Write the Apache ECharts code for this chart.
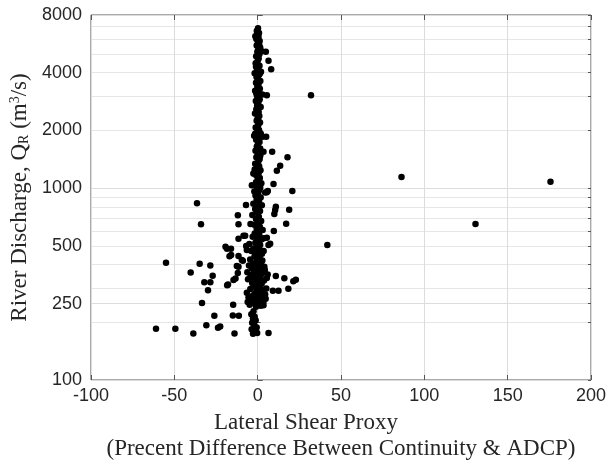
<!DOCTYPE html>
<html lang="en">
<head>
    <meta charset="utf-8">
    <title>River Discharge vs Lateral Shear Proxy</title>
    <script src="https://cdn.jsdelivr.net/npm/echarts@6.0.0/dist/echarts.min.js"></script>
    <style>
        html,
        body,
        #main {
            width: 100%;
            height: 100%;
            margin: 0;
            padding: 0;
            overflow: hidden;
            background-color: #ffffff;
        }
    </style>
</head>
<body>
<div id="main"></div>
<script>

    // lateral shear proxy (percent difference), one entry per survey
    var shearProxy = [
        0.2, -0.5, 0.8, -0.3, 0.5, -0.8, 1.2, 0.1, -0.6, 1.5,
        0.4, -0.2, 2.4, 1.0, -0.9, 0.6, 0.0, -1.2, 1.1, 0.3,
        -0.4, 2.0, -1.8, 0.9, -0.7, 0.2, 1.6, -1.0, 0.5, -0.2,
        1.3, -1.5, 0.7, 2.8, -0.5, 0.1, 1.2, -1.1, 0.4, -0.3,
        1.8, -0.8, 0.6, -1.6, 1.0, 0.0, -0.6, 1.4, 0.3, -1.2,
        0.8, -0.2, 1.9, -2.1, 0.5, 2.9, -0.9, 1.1, 0.2, -0.5,
        1.5, -1.3, 0.7, 3.5, 0.0, -0.8, 1.2, 0.4, -1.5, 0.9,
        -0.3, 1.7, -2.4, 0.6, -0.7, 1.3, 0.1, -1.0, 2.2, -3.5,
        0.5, -0.4, 1.0, -2.0, 0.3, -1.3, 1.8, -0.6, 0.8, -2.6,
        2.5, 0.0, -1.5, 1.4, -0.3, -3.2, 0.7, -1.0, 2.1, 0.4,
        -4.3, -2.0, 1.3, -0.6, 3.0, 0.2, -1.8, 1.0, -3.0, -0.4,
        2.2, 0.6, -1.4, -5.0, 1.5, -0.2, -2.6, 0.9, -3.8, -1.0,
        2.6, 0.3, -1.9, 1.2, -4.5, -0.5, 0.8, -2.8, 2.0, -1.3,
        0.1, -3.5, 1.4, -0.7, 3.2, -2.2, 0.5, -4.0, 1.8, -1.0,
        0.2, 5.5, -2.8, 1.1, -0.4, 3.8, -1.8, 0.7, -3.3, 2.4,
        -0.9, 0.0, -2.0, 1.5, -4.4, 3.0, -0.6, 0.9, -1.5, 4.5,
        -2.7, 0.3, 2.0, -1.1, -3.6, 1.2, -0.2, 3.5, -2.2, 0.6,
        -4.8, 1.8, -1.0, -2.5, -3.8, -1.8, -2.8, -1.2, -3.3, -2.0,
        -0.6, -3.6, -1.8, -0.3, -2.8,
        -6.2, 6.0, -5.8, 5.2, -6.5, 4.8, -5.5, 3.5, -6.0, 4.0,
        -5.2, 2.8, 3.6, -4.2, 2.5, -2.5, 1.0, -1.5, 0.5, -0.8,
        -1.4, 0.9, -1.0, 1.4, -0.9, 0.6, -1.5, 1.6, -1.8, 1.5,
        32, 86.3, 175.7, 41.8, 130.7, -36.4, -34, -55, -34.8, -28.4,
        -40.2, -27, -32, -28.4, -18.3, -29.8, -33.4, -14.7, -26, -14.9,
        -11.3, -30.8, -23.8, -22.5, -61, -49.4, -38.6, -13.9, 6.5, -19.3,
        -16, -16.9, -11.5, -8.9, -12.5, -11.9, -14.5, -13.3, -11.5, -11.9,
        -11.5, -7, -7.5, -6.9, 9.5, 20.8, 5.5, 10.9, 10, 18.9,
        17.1, 9.7, 7.5, 3.7, 4.3, 10.9, 16, 21.4, 22.9, 18.4,
        9.1, 12.5, 17.9, 13.5, 11.5, 8.7, 5.1, 4.9, 6.5, 8.1,
        5.5, -17.8, -11.5, 10.5, 6.1, 4.5, -8.5, 5.5, -18.4, -9.5,
        -6.5, -15.9, 6.5, -2.5
    ];

    // river discharge Q_R (m3/s), same order as shearProxy
    var discharge = [
        6830, 6600, 6450, 6300, 6150, 6000, 5850, 5700, 5550, 5420,
        5300, 5150, 5180, 5000, 4880, 4750, 4600, 4480, 4350, 4220,
        4100, 4050, 3980, 3900, 3800, 3700, 3620, 3550, 3460, 3380,
        3300, 3220, 3150, 3080, 3050, 2980, 2900, 2850, 2780, 2700,
        2650, 2580, 2500, 2450, 2380, 2320, 2250, 2200, 2130, 2070,
        2010, 1960, 1920, 1880, 1840, 1855, 1790, 1740, 1700, 1650,
        1610, 1570, 1530, 1549, 1490, 1450, 1420, 1380, 1340, 1300,
        1270, 1240, 1194, 1200, 1160, 1130, 1100, 1075, 1060, 1036,
        1030, 1000, 980, 960, 940, 915, 895, 870, 850, 830,
        815, 800, 780, 760, 745, 725, 710, 690, 675, 660,
        650, 645, 630, 615, 605, 595, 580, 570, 558, 548,
        540, 530, 520, 512, 505, 495, 485, 478, 470, 462,
        455, 448, 440, 432, 425, 420, 412, 405, 400, 394,
        388, 382, 378, 372, 366, 362, 357, 353, 350, 346,
        342, 340, 338, 335, 332, 330, 327, 324, 320, 318,
        314, 310, 306, 302, 298, 295, 291, 287, 283, 280,
        277, 274, 270, 267, 264, 261, 258, 256, 253, 250,
        247, 244, 241, 228, 220, 214, 209, 205, 199, 193,
        188, 184, 179, 176, 174,
        365, 355, 335, 300, 285, 265, 270, 245, 255, 390,
        395, 420, 470, 350, 360, 345, 355, 360, 370, 335,
        6200, 5600, 4300, 3980, 3150, 2230, 1920, 1480, 1250, 1010,
        3050, 1143, 1082, 506, 650, 834, 649, 409, 404, 395,
        364, 350, 323, 323, 312, 294, 252, 247, 216, 217,
        216, 193, 187, 190, 185, 185, 175, 175, 176, 495,
        484, 442, 443, 419, 393, 361, 332, 338, 649, 722,
        545, 817, 565, 500, 1052, 967, 954, 801, 733, 772,
        653, 598, 514, 548, 375, 349, 339, 327, 333, 299,
        292, 292, 1449, 1309, 1233, 1549, 1855, 5150, 4620, 4170,
        3050, 315, 390, 770, 967, 950, 565, 552, 484, 422,
        476, 448, 505, 1194
    ];

    // axis ticks
    var xMin = -100, xMax = 200, xStep = 50;
    var yMin = 100, yMax = 8000;
    var yTicks = [100, 250, 500, 1000, 2000, 4000, 8000];
    var yMinorTicks = [200, 300, 400, 500, 600, 700, 800, 900,
        2000, 3000, 4000, 5000, 6000, 7000];

    var points = [];
    for (var i = 0; i < shearProxy.length; i++) {
        points.push([shearProxy[i], discharge[i]]);
    }

    var axisColor = '#555555';
    var textColor = '#262626';

    var chart = echarts.init(document.getElementById('main'));
    var option = {
        animation: false,
        backgroundColor: '#ffffff',
        grid: {
            left: 91, right: 17, top: 15, bottom: 81,
            outerBoundsMode: 'none',
            show: true,
            borderColor: axisColor,
            borderWidth: 1
        },
        xAxis: [
            {
                type: 'value',
                min: xMin, max: xMax, interval: xStep,
                axisLine: {show: false},
                axisTick: {inside: true, length: 5, lineStyle: {color: axisColor}},
                axisLabel: {color: textColor, fontFamily: 'Liberation Sans', fontSize: 18, margin: 7},
                splitLine: {show: true, lineStyle: {color: '#dcdcdc'}},
                name: 'Lateral Shear Proxy{gap| }\n(Precent Difference Between Continuity & ADCP)',
                nameLocation: 'middle',
                nameGap: 30,
                nameTextStyle: {
                    fontFamily: 'Liberation Serif', fontSize: 23, color: textColor, lineHeight: 26,
                    rich: {gap: {width: 70}}
                }
            },
            {
                type: 'value',
                position: 'top',
                min: xMin, max: xMax, interval: xStep,
                axisLine: {show: false},
                axisTick: {inside: true, length: 5, lineStyle: {color: axisColor}},
                axisLabel: {show: false},
                splitLine: {show: false}
            }
        ],
        yAxis: [
            {
                type: 'log', logBase: 10,
                min: yMin, max: yMax,
                position: 'left',
                axisLine: {show: false},
                axisTick: {inside: true, length: 5, customValues: yTicks, lineStyle: {color: axisColor}},
                axisLabel: {
                    customValues: yTicks, margin: 9,
                    color: textColor, fontFamily: 'Liberation Sans', fontSize: 18,
                    formatter: function (v) { return String(v); }
                },
                splitLine: {show: true, lineStyle: {color: '#dcdcdc'}},
                name: 'River Discharge, Q{sub|R} (m{sup|3}/s)',
                nameLocation: 'middle',
                nameGap: 58,
                nameTextStyle: {
                    fontFamily: 'Liberation Serif', fontSize: 23, color: textColor,
                    rich: {
                        sub: {fontFamily: 'Liberation Serif', fontSize: 14, color: textColor, verticalAlign: 'bottom'},
                        sup: {fontFamily: 'Liberation Serif', fontSize: 14, color: textColor, verticalAlign: 'top'}
                    }
                }
            },
            {
                type: 'log', logBase: 10,
                min: yMin, max: yMax,
                position: 'left',
                axisLine: {show: false},
                axisTick: {inside: true, length: 3, customValues: yMinorTicks, lineStyle: {color: axisColor}},
                axisLabel: {show: false},
                splitLine: {show: true, lineStyle: {color: '#e6e6e6'}}
            },
            {
                type: 'log', logBase: 10,
                min: yMin, max: yMax,
                position: 'right',
                axisLine: {show: false},
                axisTick: {inside: true, length: 3, customValues: yMinorTicks.concat(yTicks), lineStyle: {color: axisColor}},
                axisLabel: {show: false},
                splitLine: {show: false}
            }
        ],
        series: [
            {
                type: 'scatter',
                xAxisIndex: 0,
                yAxisIndex: 0,
                symbol: 'circle',
                symbolSize: 6.5,
                itemStyle: {color: '#000000', opacity: 1},
                z: 5,
                data: points
            }
        ]
    };
    chart.setOption(option);

</script>
</body>
</html>
